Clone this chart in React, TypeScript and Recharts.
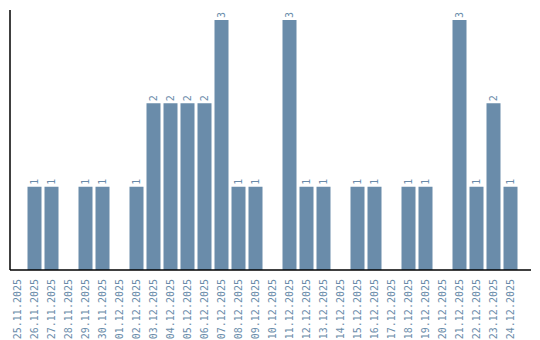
import React from "react";
import { BarChart, Bar, XAxis, YAxis, LabelList } from "recharts";

const dates = [
  "25.11.2025", "26.11.2025", "27.11.2025", "28.11.2025", "29.11.2025", "30.11.2025",
  "01.12.2025", "02.12.2025", "03.12.2025", "04.12.2025", "05.12.2025", "06.12.2025",
  "07.12.2025", "08.12.2025", "09.12.2025", "10.12.2025", "11.12.2025", "12.12.2025",
  "13.12.2025", "14.12.2025", "15.12.2025", "16.12.2025", "17.12.2025", "18.12.2025",
  "19.12.2025", "20.12.2025", "21.12.2025", "22.12.2025", "23.12.2025", "24.12.2025",
];
const counts = [0, 1, 1, 0, 1, 1, 0, 1, 2, 2, 2, 2, 3, 1, 1, 0, 3, 1, 1, 0, 1, 1, 0, 1, 1, 0, 3, 1, 2, 1];

const data = dates.map((d, i) => ({ date: d, count: counts[i] }));

const COLOR = "#6a8caa";
const FONT = "'DejaVu Sans Mono', monospace";

const Tick = (props: any) => {
  const { x, y, payload } = props;
  return (
    <text
      x={0}
      y={0}
      transform={`translate(${x},${y + 7}) rotate(-90)`}
      textAnchor="end"
      dominantBaseline="central"
      fontFamily={FONT}
      fontSize={10}
      fill={COLOR}
    >
      {payload.value}
    </text>
  );
};

const ValueLabel = (props: any) => {
  const { x, y, width, value } = props;
  if (!value) return null;
  const cx = x + width / 2;
  const cy = y - 2;
  return (
    <text
      x={0}
      y={0}
      transform={`translate(${cx},${cy}) rotate(-90)`}
      textAnchor="start"
      dominantBaseline="central"
      fontFamily={FONT}
      fontSize={10}
      fill={COLOR}
    >
      {value}
    </text>
  );
};

export default function App() {
  return (
    <BarChart
      width={532}
      height={332}
      data={data}
      margin={{ top: 2, right: 9, bottom: 0, left: 0 }}
    >
      <XAxis
        dataKey="date"
        interval={0}
        height={70}
        tickLine={false}
        tickSize={0}
        tick={<Tick />}
        axisLine={{ stroke: "#000", strokeWidth: 1.5 }}
        padding={{ left: -1.5, right: 12.5 }}
      />
      <YAxis
        width={2}
        domain={[0, 3]}
        tick={false}
        tickLine={false}
        axisLine={{ stroke: "#000", strokeWidth: 1.5 }}
        padding={{ top: 10, bottom: 0 }}
      />
      <Bar dataKey="count" fill={COLOR} barSize={14} isAnimationActive={false}>
        <LabelList dataKey="count" content={<ValueLabel />} />
      </Bar>
    </BarChart>
  );
}
